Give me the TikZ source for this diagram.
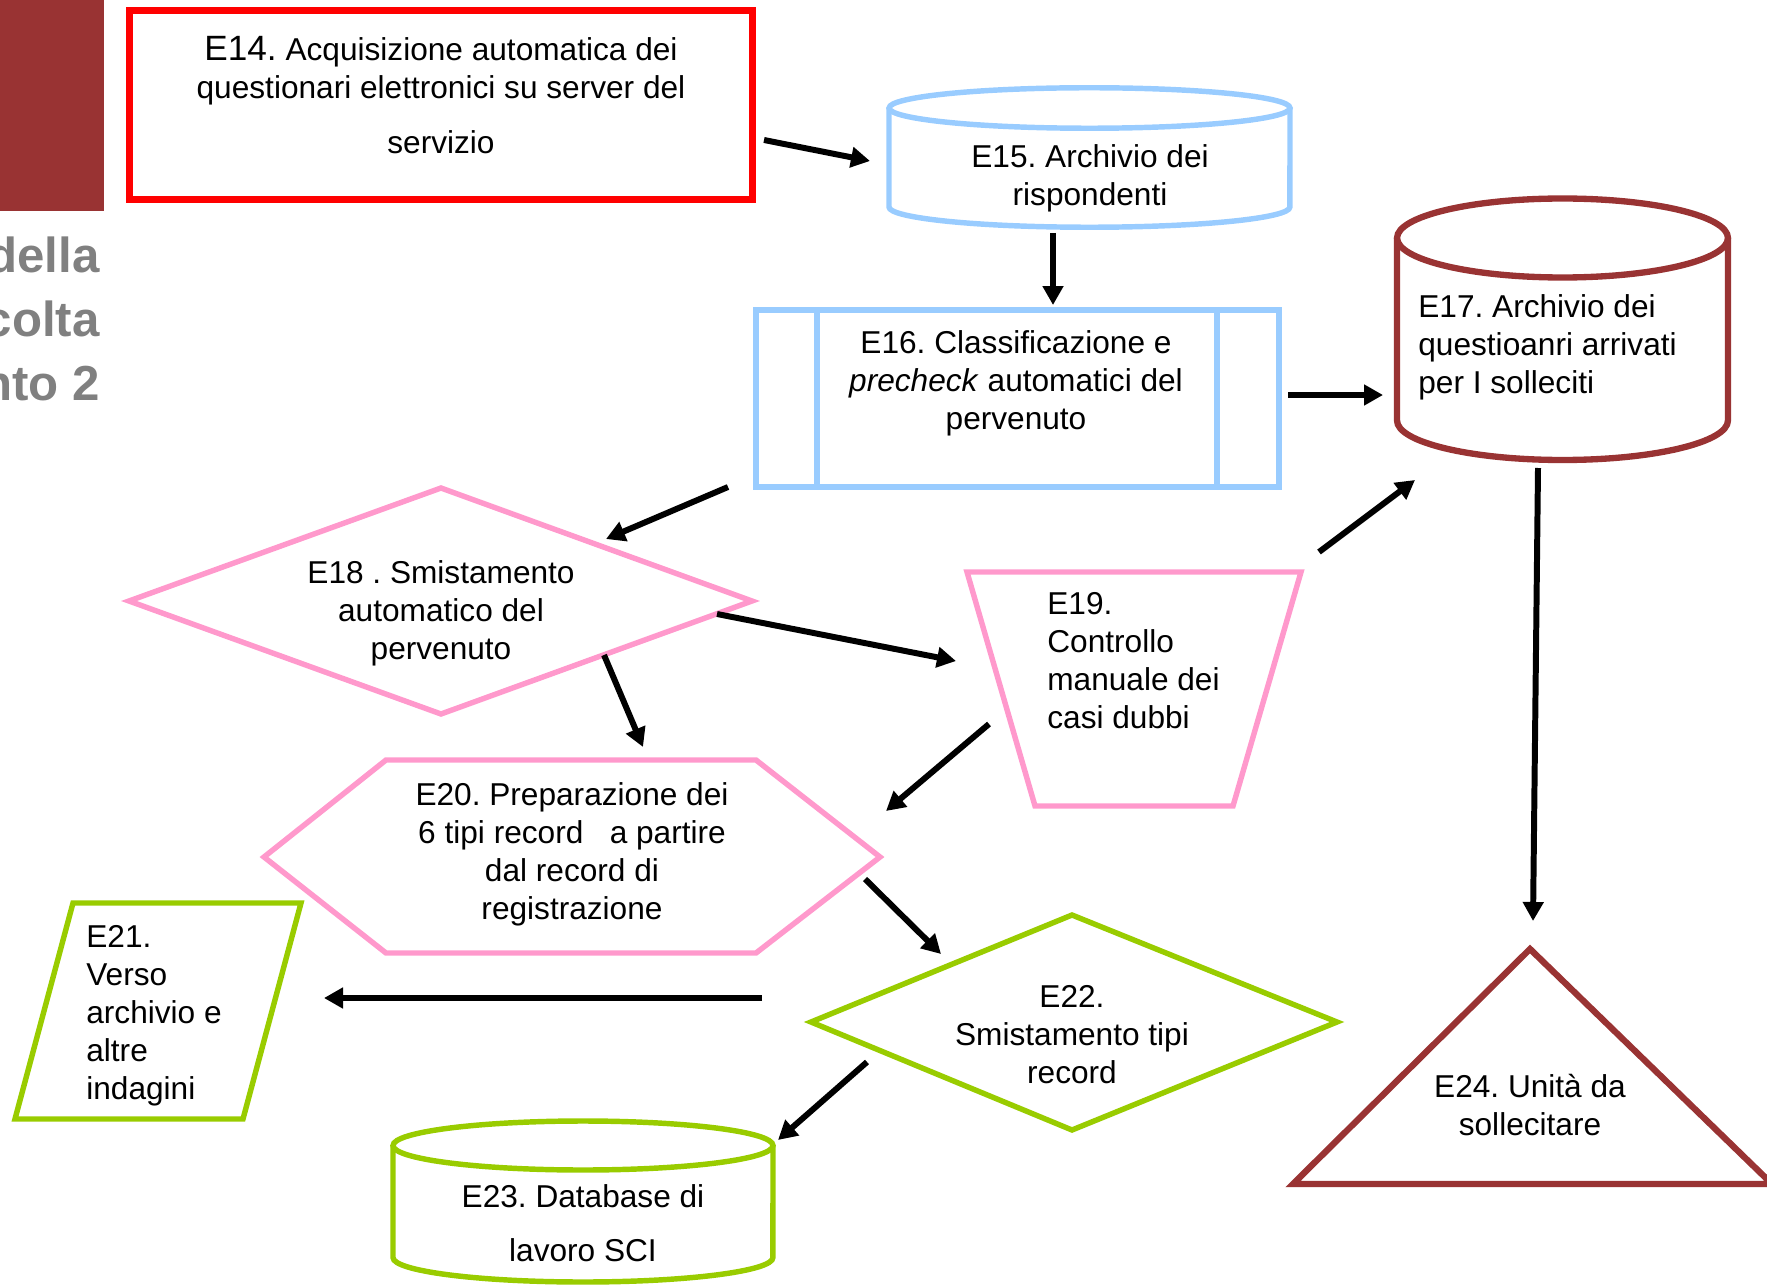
\documentclass[tikz,border=0pt]{standalone}
\usepackage{fontspec}
\setmainfont{Liberation Sans}
\usetikzlibrary{arrows.meta}
\definecolor{bordo}{HTML}{993333}
\definecolor{celeste}{HTML}{99CCFF}
\definecolor{rosa}{HTML}{FF99CC}
\definecolor{verde}{HTML}{99CC00}
\definecolor{grigio}{HTML}{808080}
\frenchspacing
\tikzset{>/.tip={Triangle[length=0.38cm,width=0.4cm]}}
\tikzset{forma/.style={line width=3.1pt,line join=miter}}

\begin{document}
\begin{tikzpicture}[x=0.02cm,y=-0.02cm,
    testo/.style={align=center,inner sep=0pt,font=\fontsize{18pt}{21.6pt}\selectfont},
    testosx/.style={testo,align=left,anchor=west},
    titolo/.style={inner sep=0pt,anchor=base east,text=grigio,font=\fontsize{28pt}{36pt}\selectfont\bfseries},
    freccia/.style={->,line width=3.4pt}]
  \useasboundingbox (0,0) rectangle (1767,1287);
  % fascia del titolo, tagliata a sinistra
  \fill[bordo] (-10,-10) rectangle (104,211);
  \node[titolo] (t1) at (100,273) {della};
  \node[titolo] (t2) at (100,337) {colta};
  \node[titolo] (t3) at (100,400) {nto 2};
  % forme
  \draw[forma,red,line width=3.7pt] (129.5,10.5) rectangle (752.5,199.5);
  \draw[forma,celeste] (889,108) -- (889,207) arc[start angle=180,end angle=360,x radius=4.01cm,y radius=0.405cm] -- (1290,108);
  \draw[forma,celeste] (1089.5,108) ellipse [x radius=4.01cm,y radius=0.405cm];
  \draw[forma,celeste] (756,310) rectangle (1279,487);
  \draw[forma,celeste] (817,310) -- (817,487) (1217,310) -- (1217,487);
  \draw[forma,bordo,line width=3.6pt] (1397,238) -- (1397,420.5) arc[start angle=180,end angle=360,x radius=3.31cm,y radius=0.79cm] -- (1728,238);
  \draw[forma,bordo,line width=3.6pt] (1562.5,238) ellipse [x radius=3.31cm,y radius=0.79cm];
  \draw[forma,rosa] (129,601) -- (441,488) -- (752,601) -- (441,714) -- cycle;
  \draw[forma,rosa] (967,572) -- (1301,572) -- (1233,806) -- (1035,806) -- cycle;
  \draw[forma,rosa] (264,857) -- (386,760) -- (756,760) -- (880,857) -- (756,953) -- (386,953) -- cycle;
  \draw[forma,verde] (73,903) -- (301,903) -- (243,1119) -- (15,1119) -- cycle;
  \draw[forma,verde] (811,1022) -- (1072,915) -- (1337,1022) -- (1072,1130) -- cycle;
  \draw[forma,verde] (393,1145.5) -- (393,1257.5) arc[start angle=180,end angle=360,x radius=3.8cm,y radius=0.49cm] -- (773,1145.5);
  \draw[forma,verde] (583,1145.5) ellipse [x radius=3.8cm,y radius=0.49cm];
  \draw[forma,bordo,line width=3.6pt] (1530,949) -- (1772,1184) -- (1293,1184) -- cycle;
  % testi
  \node[testo] (e14) at (441,95) {{\fontsize{20pt}{21.6pt}\selectfont E14.} Acquisizione automatica dei\\questionari elettronici su server del\\[9.6pt]servizio};
  \node[testo] (e15) at (1090,178) {E15. Archivio dei\\rispondenti};
  \node[testo] (e16) at (1016,383) {E16. Classificazione e\\\textit{precheck} automatici del\\pervenuto};
  \node[testosx] (e17) at (1418,347) {E17. Archivio dei\\questioanri arrivati\\per I solleciti};
  \node[testo] (e18) at (441,613) {E18 . Smistamento\\automatico del\\pervenuto};
  \node[testosx] (e19) at (1047,661) {E19.\\Controllo\\manuale dei\\casi dubbi};
  \node[testo] (e20) at (572,854) {E20. Preparazione dei\\6 tipi record\ \ \ a partire\\dal record di\\registrazione};
  \node[testosx] (e21) at (86,1016) {E21.\\Verso\\archivio e\\altre\\indagini};
  \node[testo] (e22) at (1072,1035) {E22.\\Smistamento tipi\\record};
  \node[testo] (e23) at (583,1223) {E23. Database di\\[9pt]lavoro SCI};
  \node[testo] (e24) at (1530,1105) {E24. Unità da\\sollecitare};
  % estremi delle frecce
  \coordinate (e14-e15a) at (764,140);   \coordinate (e14-e15b) at (870,161);
  \coordinate (e15-e16a) at (1053,233);  \coordinate (e15-e16b) at (1053,305);
  \coordinate (e16-e17a) at (1288,395);  \coordinate (e16-e17b) at (1383,395);
  \coordinate (e16-e18a) at (728,487);   \coordinate (e16-e18b) at (606,539);
  \coordinate (e18-e19a) at (717,614);   \coordinate (e18-e19b) at (956,661);
  \coordinate (e18-e20a) at (604,655);   \coordinate (e18-e20b) at (643,747);
  \coordinate (e19-e17a) at (1319,552);  \coordinate (e19-e17b) at (1415,480);
  \coordinate (e19-e20a) at (989,724);   \coordinate (e19-e20b) at (886,811);
  \coordinate (e17-e24a) at (1538,468);  \coordinate (e17-e24b) at (1533,921);
  \coordinate (e20-e22a) at (865,879);   \coordinate (e20-e22b) at (941,954);
  \coordinate (e22-e21a) at (762,998);   \coordinate (e22-e21b) at (324,998);
  \coordinate (e22-e23a) at (867,1062);  \coordinate (e22-e23b) at (778,1140);
  \foreach \f in {e14-e15,e15-e16,e16-e17,e16-e18,e18-e19,e18-e20,e19-e17,e19-e20,e17-e24,e20-e22,e22-e21,e22-e23}
    \draw[freccia] (\f a) -- (\f b);
\end{tikzpicture}
\end{document}
